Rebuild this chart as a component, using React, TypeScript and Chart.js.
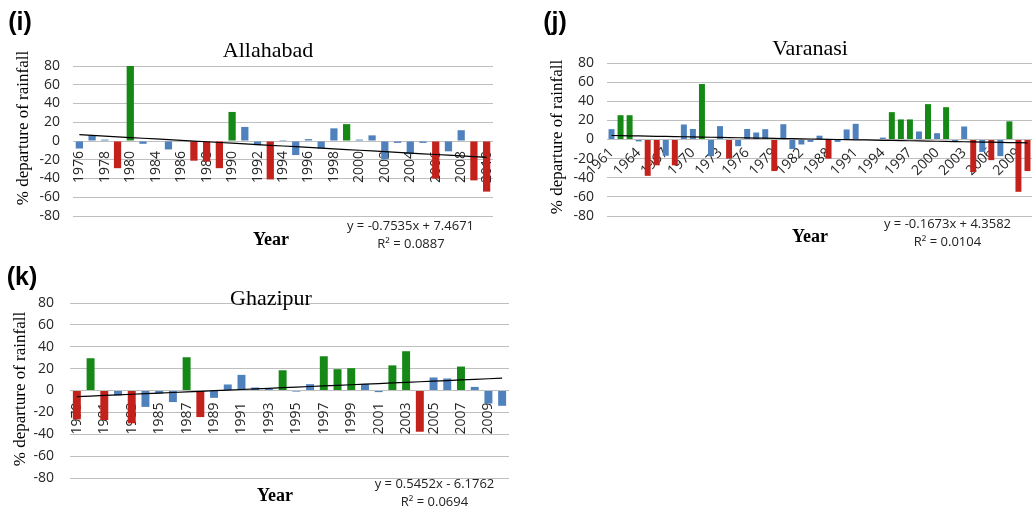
import React, { useEffect, useRef } from 'react';
import { Chart, registerables } from 'chart.js';

Chart.register(...registerables);

// ---------- Data ----------
const ALLAHABAD_YEARS = [1976, 1977, 1978, 1979, 1980, 1981, 1984, 1985, 1986, 1987, 1988, 1989, 1990, 1991, 1992, 1993, 1994, 1995, 1996, 1997, 1998, 1999, 2000, 2001, 2002, 2003, 2004, 2005, 2006, 2007, 2008, 2009, 2010];
const ALLAHABAD_VALUES = [-8, 6, 1.5, -29, 81, -3, 0.5, -9, -0.5, -21, -22, -29, 31, 15, -4.5, -41, 1, -15, 2, -8, 13.5, 18, 1.5, 6, -19.5, -2, -14, -2, -40, -11, 11.5, -42, -54];
const ALLAHABAD_CLASS = ['n', 'n', 'n', 'd', 'e', 'n', 'n', 'n', 'n', 'd', 'd', 'd', 'e', 'n', 'n', 'd', 'n', 'n', 'n', 'n', 'n', 'e', 'n', 'n', 'n', 'n', 'n', 'n', 'd', 'n', 'n', 'd', 'd'];
const ALLAHABAD_SLOPE = -0.7535;
const ALLAHABAD_INTERCEPT = 7.4671;

const VARANASI_YEARS = [1961, 1962, 1963, 1964, 1965, 1966, 1967, 1968, 1969, 1970, 1971, 1972, 1973, 1974, 1975, 1976, 1977, 1978, 1979, 1980, 1981, 1982, 1986, 1987, 1988, 1989, 1990, 1991, 1992, 1993, 1994, 1995, 1996, 1997, 1998, 1999, 2000, 2001, 2002, 2003, 2004, 2005, 2006, 2007, 2008, 2009, 2010];
const VARANASI_VALUES = [10.8, 25.4, 25.4, -2, -38, -27, -17, -27, 15.7, 11, 58, -17.4, 14, -20, -7, 11, 7.3, 10.8, -33, 16, -10, -5.2, -2.5, 4, -20, -2.5, 10.5, 16.4, 0, 0, 2, 28.6, 21, 21, 8.4, 37, 6.6, 33.8, -2, 13.6, -34, -13, -21.6, -17.4, 19, -54.7, -33];
const VARANASI_CLASS = ['n', 'e', 'e', 'n', 'd', 'd', 'n', 'd', 'n', 'n', 'e', 'n', 'n', 'd', 'n', 'n', 'n', 'n', 'd', 'n', 'n', 'n', 'n', 'n', 'd', 'n', 'n', 'n', 'n', 'n', 'n', 'e', 'e', 'e', 'n', 'e', 'n', 'e', 'n', 'n', 'd', 'n', 'd', 'n', 'e', 'd', 'd'];
const VARANASI_SLOPE = -0.1673;
const VARANASI_INTERCEPT = 4.3582;

const GHAZIPUR_YEARS = [1979, 1980, 1981, 1982, 1983, 1984, 1985, 1986, 1987, 1988, 1989, 1990, 1991, 1992, 1993, 1994, 1995, 1996, 1997, 1998, 1999, 2000, 2001, 2002, 2003, 2004, 2005, 2006, 2007, 2008, 2009, 2010];
const GHAZIPUR_VALUES = [-26.4, 29.5, -27, -4.5, -30, -15, -2.7, -10.6, 30.4, -24.3, -6.7, 5.5, 14.3, 2.7, 1.5, 18.5, -1, 5.8, 31.3, 19.5, 20.4, 6, -1.5, 23, 35.9, -37.7, 11.9, 11, 21.9, 3.3, -11.9, -14];
const GHAZIPUR_CLASS = ['d', 'e', 'd', 'n', 'd', 'n', 'n', 'n', 'e', 'd', 'n', 'n', 'n', 'n', 'n', 'e', 'n', 'n', 'e', 'e', 'e', 'n', 'n', 'e', 'e', 'd', 'n', 'n', 'e', 'n', 'n', 'n'];
const GHAZIPUR_SLOPE = 0.5452;
const GHAZIPUR_INTERCEPT = -6.1762;

const Y_MIN = -80;
const Y_MAX = 80;
const Y_STEP = 20;

// ---------- Styles ----------
const CLASS_COLORS: Record<string, string> = { n: '#4f81bd', e: '#168816', d: '#c2221b' };
const TICK_FONT = { family: "'Open Sans', 'Liberation Sans', sans-serif", size: 14 };
const TICK_COLOR = '#262626';
const GRID_COLOR = '#bfbfbf';

type Box = { left: number; top: number; right: number; bottom: number };

type PanelProps = {
  years: number[];
  values: number[];
  classes: string[];
  slope: number;
  intercept: number;
  step: number;
  rotation: number;
  canvasLeft: number;
  canvasTop: number;
  canvasW: number;
  canvasH: number;
  area: Box;
  yPad: number;
  xPad: number;
  barPct: number;
};

function BarPanel(p: PanelProps) {
  const ref = useRef<HTMLCanvasElement | null>(null);
  useEffect(() => {
    if (!ref.current) return;
    const labels = p.years.map(String);
    const trend = p.years.map((_, i) => p.slope * (i + 1) + p.intercept);
    const chart = new Chart(ref.current, {
      type: 'bar',
      data: {
        labels,
        datasets: [
          {
            type: 'line',
            data: trend,
            borderColor: '#000000',
            borderWidth: 1.2,
            pointRadius: 0,
            fill: false,
            tension: 0,
            order: 0,
          } as any,
          {
            type: 'bar',
            data: p.values,
            backgroundColor: p.classes.map((c) => CLASS_COLORS[c]),
            barPercentage: p.barPct,
            categoryPercentage: 1,
            order: 1,
          } as any,
        ],
      },
      options: {
        responsive: false,
        maintainAspectRatio: false,
        animation: false,
        layout: {
          padding: {
            left: 0,
            top: p.area.top,
            right: p.canvasW - p.area.right,
            bottom: p.canvasH - p.area.bottom,
          },
        },
        plugins: {
          legend: { display: false },
          tooltip: { enabled: false },
          title: { display: false },
        },
        scales: {
          x: {
            type: 'category',
            position: { y: 0 } as any,
            z: 1,
            grid: { display: false, drawTicks: false },
            border: { display: false },
            ticks: {
              autoSkip: false,
              minRotation: p.rotation,
              maxRotation: p.rotation,
              padding: p.xPad,
              font: TICK_FONT,
              color: TICK_COLOR,
              callback: function (this: any, v: any, i: number) {
                return i % p.step === 0 ? this.getLabelForValue(v) : '';
              },
            },
          },
          y: {
            type: 'linear',
            min: Y_MIN,
            max: Y_MAX,
            afterFit: (s: any) => {
              s.width = p.area.left;
            },
            grid: { color: GRID_COLOR, lineWidth: 1, drawTicks: false },
            border: { display: false },
            ticks: { stepSize: Y_STEP, autoSkip: false, padding: p.yPad, font: TICK_FONT, color: TICK_COLOR },
          },
        },
      } as any,
    });
    return () => chart.destroy();
  }, []);
  return (
    <canvas
      ref={ref}
      width={p.canvasW}
      height={p.canvasH}
      style={{ position: 'absolute', left: p.canvasLeft, top: p.canvasTop, width: p.canvasW, height: p.canvasH }}
    />
  );
}

function Txt(props: { x: number; y: number; size: number; family: string; weight?: number | string; rotate?: number; color?: string; children: React.ReactNode }) {
  const { x, y, size, family, weight, rotate, color, children } = props;
  return (
    <div
      style={{
        position: 'absolute',
        left: x,
        top: y,
        transform: `translate(-50%, -50%)${rotate ? ` rotate(${rotate}deg)` : ''}`,
        fontSize: size,
        fontFamily: family,
        fontWeight: weight ?? 'normal',
        lineHeight: 1,
        whiteSpace: 'nowrap',
        color: color ?? '#000',
      }}
    >
      {children}
    </div>
  );
}

const SERIF = "'Liberation Serif', 'Times New Roman', serif";
const SANS = "'Liberation Sans', Arial, sans-serif";
const EQ_FONT = "'Open Sans', 'Liberation Sans', sans-serif";

export default function App() {
  return (
    <div style={{ position: 'absolute', left: 0, top: 0, width: 1033, height: 511, overflow: 'hidden', background: '#ffffff' }}>
      <BarPanel
        years={ALLAHABAD_YEARS}
        values={ALLAHABAD_VALUES}
        classes={ALLAHABAD_CLASS}
        slope={ALLAHABAD_SLOPE}
        intercept={ALLAHABAD_INTERCEPT}
        step={2}
        rotation={90}
        canvasLeft={0}
        canvasTop={0}
        canvasW={520}
        canvasH={260}
        area={{ left: 73, top: 66, right: 493, bottom: 216 }}
        yPad={13}
        xPad={10}
        barPct={0.57}
      />
      <BarPanel
        years={VARANASI_YEARS}
        values={VARANASI_VALUES}
        classes={VARANASI_CLASS}
        slope={VARANASI_SLOPE}
        intercept={VARANASI_INTERCEPT}
        step={3}
        rotation={45}
        canvasLeft={530}
        canvasTop={0}
        canvasW={520}
        canvasH={260}
        area={{ left: 77, top: 63, right: 502, bottom: 216 }}
        yPad={13}
        xPad={5}
        barPct={0.66}
      />
      <BarPanel
        years={GHAZIPUR_YEARS}
        values={GHAZIPUR_VALUES}
        classes={GHAZIPUR_CLASS}
        slope={GHAZIPUR_SLOPE}
        intercept={GHAZIPUR_INTERCEPT}
        step={2}
        rotation={90}
        canvasLeft={0}
        canvasTop={260}
        canvasW={545}
        canvasH={251}
        area={{ left: 70, top: 43, right: 509, bottom: 218 }}
        yPad={16}
        xPad={12}
        barPct={0.58}
      />

      <Txt x={20} y={21} size={25} family={SANS} weight="bold">(i)</Txt>
      <Txt x={555} y={21} size={25} family={SANS} weight="bold">(j)</Txt>
      <Txt x={22} y={276} size={25} family={SANS} weight="bold">(k)</Txt>

      <Txt x={268} y={50} size={22} family={SERIF}>Allahabad</Txt>
      <Txt x={810} y={47.5} size={22} family={SERIF}>Varanasi</Txt>
      <Txt x={271} y={298} size={22} family={SERIF}>Ghazipur</Txt>

      <Txt x={22} y={128} size={17} family={SERIF} rotate={-90}>% departure of rainfall</Txt>
      <Txt x={556} y={137} size={17} family={SERIF} rotate={-90}>% departure of rainfall</Txt>
      <Txt x={19} y={389} size={17} family={SERIF} rotate={-90}>% departure of rainfall</Txt>

      <Txt x={271} y={239} size={18} family={SERIF} weight="bold">Year</Txt>
      <Txt x={810} y={236} size={18} family={SERIF} weight="bold">Year</Txt>
      <Txt x={275} y={495} size={18} family={SERIF} weight="bold">Year</Txt>

      <Txt x={410.5} y={225} size={13} family={EQ_FONT} color="#222">y = -0.7535x + 7.4671</Txt>
      <Txt x={411} y={242.7} size={13} family={EQ_FONT} color="#222">R² = 0.0887</Txt>
      <Txt x={947.5} y={222.7} size={13} family={EQ_FONT} color="#222">y = -0.1673x + 4.3582</Txt>
      <Txt x={947.5} y={240.7} size={13} family={EQ_FONT} color="#222">R² = 0.0104</Txt>
      <Txt x={434.5} y={482.7} size={13} family={EQ_FONT} color="#222">y = 0.5452x - 6.1762</Txt>
      <Txt x={434.5} y={501} size={13} family={EQ_FONT} color="#222">R² = 0.0694</Txt>
    </div>
  );
}
